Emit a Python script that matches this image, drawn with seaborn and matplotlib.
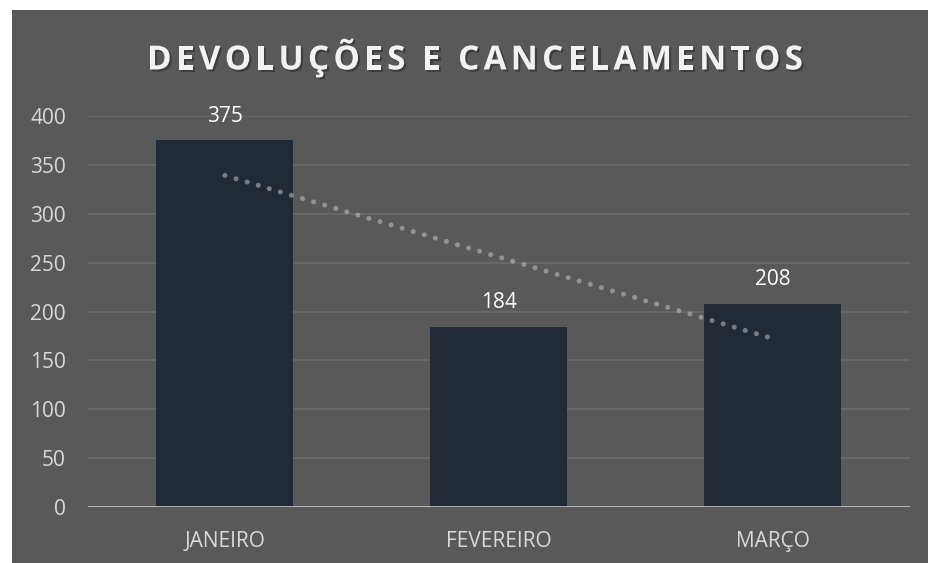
import matplotlib
matplotlib.use("Agg")
import matplotlib.pyplot as plt
import matplotlib.patheffects as pe
import seaborn as sns
import pandas as pd
import numpy as np

# dados do grafico
meses = ["JANEIRO", "FEVEREIRO", "MARÇO"]
valores = [375, 184, 208]
ticks_y = [0, 50, 100, 150, 200, 250, 300, 350, 400]
titulo = "DEVOLUÇÕES E CANCELAMENTOS"

sns.set_style("dark")
plt.rcParams['font.family'] = ['Open Sans', 'DejaVu Sans']

W, H = 929, 563
fig = plt.figure(figsize=(W / 100, H / 100), dpi=100, facecolor='white')
# fundo cinza do grafico (com margem branca em cima e a esquerda)
fig.patches.append(plt.Rectangle((12 / W, 0), 1, (H - 10) / H, transform=fig.transFigure,
                                 facecolor='#595959', edgecolor='none', zorder=-10))

ax = fig.add_axes([88 / W, 56 / H, 822 / W, 391 / H])
ax.set_facecolor('none')

df = pd.DataFrame({'mes': meses, 'valor': valores})
sns.barplot(data=df, x='mes', y='valor', color='#222a35', width=0.5, saturation=1, ax=ax,
            edgecolor='none', linewidth=0, zorder=2)
for barra in ax.patches:
    barra.set_path_effects([pe.SimplePatchShadow(offset=(0, 0), shadow_rgbFace='black', alpha=0.25),
                            pe.Normal()])

# linha de tendencia (linear)
sns.regplot(x=np.arange(len(valores)), y=valores, scatter=False, ci=None, truncate=True, ax=ax,
            line_kws=dict(color='#c4c4c4', alpha=0.55, lw=3.6, linestyle=(0, (0.01, 2.3)),
                          dash_capstyle='round', zorder=4))

ax.set_xlim(-0.5, len(meses) - 0.5)
ax.set_ylim(0, 400)
ax.set_yticks(ticks_y)
ax.set_xticks(range(len(meses)))
ax.set_xticklabels(meses)
ax.set_xlabel('')
ax.set_ylabel('')

ax.yaxis.grid(True, color='#6c6c6c', lw=1.2)
ax.xaxis.grid(False)
ax.set_axisbelow(True)
for s in ax.spines.values():
    s.set_visible(False)
ax.axhline(0, color='#bfbfbf', lw=2, zorder=5)

ax.tick_params(axis='both', length=0, colors='#d9d9d9', labelsize=15)
ax.tick_params(axis='y', pad=16)
ax.tick_params(axis='x', pad=17)

ax.bar_label(ax.containers[0], padding=10, color='white', fontsize=15)

# titulo com espacamento entre letras
renderer = fig.canvas.get_renderer()
estilo = dict(fontsize=24, fontweight='bold', color='#f2f2f2', va='center', ha='left',
              path_effects=[pe.withSimplePatchShadow(offset=(1.5, -1.5), shadow_rgbFace='black', alpha=0.3)])
larguras = []
for ch in titulo:
    if ch == ' ':
        a = fig.text(0, 0, 'EE', **estilo).get_window_extent(renderer).width
        b = fig.text(0, 0, 'E E', **estilo).get_window_extent(renderer).width
        larguras.append(b - a)
    else:
        larguras.append(fig.text(0, 0, ch, **estilo).get_window_extent(renderer).width)
for t in list(fig.texts):
    t.remove()

total = 656
espaco = (total - sum(larguras)) / (len(titulo) - 1)
x = 475 - total / 2
for ch, w in zip(titulo, larguras):
    if ch != ' ':
        fig.text(x / W, 1 - 61 / H, ch, **estilo)
    x += w + espaco

fig.savefig('out.png', dpi=100, facecolor='white')
